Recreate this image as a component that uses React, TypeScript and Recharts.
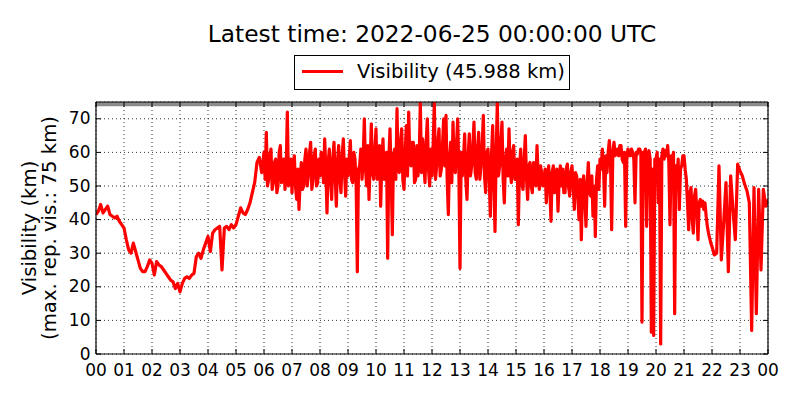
import React from "react";
import {
  LineChart, Line, XAxis, YAxis, CartesianGrid, ReferenceArea,
} from "recharts";

// visibility (km), hour by hour; quiet hours every 5 min, noisy hours every 2.5 min
const h00 = [41.5, 42.5, 44.5, 42, 43, 44, 41.5, 41, 40.5, 41, 39.5, 38.5];
const h01 = [37.5, 34, 31, 30, 33, 30.5, 28, 25.5, 24.5, 24.5, 26, 28];
const h02 = [27, 23.5, 27.5, 26.5, 26, 25, 24, 23, 22, 21.5, 19.5, 21];
const h03 = [18.5, 21, 22.5, 23, 22.5, 23.5, 24, 29, 30, 28.5, 31, 33];
const h04 = [35, 30.5, 36, 37, 37.5, 38, 25, 37.5, 38, 37, 38.5, 37.5];
const h05 = [38.5, 41, 43.5, 42, 41.5, 43, 45, 48, 51, 57, 58.5, 54];
const h06 = [60, 52, 66, 50, 52, 59, 61, 49, 51, 57, 58, 48, 50, 60, 62, 51, 56, 58, 49, 55, 72, 50, 55, 58];
const h07 = [48, 57, 59, 50, 46, 55, 43, 52, 57, 49, 50, 58, 61, 50, 53, 60, 63, 49, 52, 59, 61, 50, 51, 58];
const h08 = [53, 60, 58, 51, 64, 55, 42, 57, 61, 52, 46, 58, 63, 53, 44, 57, 62, 52, 48, 59, 64, 54, 47, 58];
const h09 = [53, 58, 63.5, 52, 51, 60, 58, 50, 24.5, 55, 56, 61, 52, 58, 70, 55, 50, 62, 46, 57, 68.5, 54, 52, 60];
const h10 = [67, 52, 56, 62, 44, 57, 64, 52, 56, 60, 28.5, 58, 67, 53, 35.5, 59, 61, 52, 73, 55, 54, 63, 67, 52];
const h11 = [49, 60, 68, 53, 72, 58, 56, 63, 63, 51, 52, 62, 53, 58, 75, 54, 64, 57, 51, 63, 70, 55, 50, 61];
const h12 = [53, 62, 75, 52, 56, 63, 67, 53, 55, 62, 70, 56, 71, 52, 41.5, 58, 63, 51, 69, 57, 54, 62, 70, 55];
const h13 = [25.5, 60, 53, 58, 65.5, 52, 46, 59, 65.5, 53, 56, 62, 69, 54, 52, 61, 66, 52, 56, 62, 71, 53, 48, 60];
const h14 = [61, 53, 41, 59, 68, 52, 36.5, 60, 75, 53, 56, 63, 69, 52, 45, 58, 61, 53, 67, 55, 51, 60, 62, 52];
const h15 = [52, 58, 38.5, 55, 61, 51, 49, 58, 65, 52, 46, 56, 57, 50, 48, 57, 55, 50, 62, 53, 49, 56, 54, 50];
const h16 = [51, 55, 45, 53, 56, 49, 39.5, 54, 56, 48, 50, 55, 42.5, 52, 56, 50, 55, 48, 48, 55, 56.5, 50, 47, 54];
const h17 = [56, 50, 43, 54, 53, 47, 40, 52, 34, 50, 53, 46, 38, 51, 57, 48, 47, 53, 41, 50, 35, 52, 56, 49];
const h18 = [58, 55, 61, 56, 44, 59, 54, 60, 63.5, 58, 37, 60, 63, 59, 60, 61, 59, 62, 62, 58, 57, 60, 38, 59];
const h19 = [61, 59, 59, 61, 60, 58, 45, 60, 59.5, 61, 61, 60, 9.5, 60, 60, 61, 38, 59, 60.5, 58, 6.5, 55, 5.5, 58];
const h20 = [58, 60, 45, 58, 3, 59, 61, 58, 60.5, 59, 62, 57, 38.5, 59, 58, 60, 12, 56, 52, 58, 43, 55, 56, 59];
const h21 = [59, 55, 52, 45, 37, 48, 49.5, 40, 36, 47, 49, 42, 34, 45, 46, 44, 45.5, 43, 45, 41, 38, 36, 34.5, 33];
const h22 = [32, 29.5, 30, 56, 28, 39, 51, 24.5, 53, 43, 34, 56.5];
const h23 = [54.5, 53, 50.5, 48.5, 45, 7, 49.5, 12, 49, 25, 49, 44];
const lastValue = 45.988;

const hourLabels = [
  "00", "01", "02", "03", "04", "05", "06", "07", "08", "09", "10", "11",
  "12", "13", "14", "15", "16", "17", "18", "19", "20", "21", "22", "23", "00",
];
const yTicks = [0, 10, 20, 30, 40, 50, 60, 70];
const maxRepVis = 75;

const hours = [h00, h01, h02, h03, h04, h05, h06, h07, h08, h09, h10, h11,
  h12, h13, h14, h15, h16, h17, h18, h19, h20, h21, h22, h23];
const data = hours
  .flatMap((vals, h) => vals.map((v, i) => ({ t: h * 60 + (i * 60) / vals.length, vis: v })))
  .concat([{ t: 24 * 60, vis: lastValue }]);
const hourTicks = hourLabels.map((_, i) => i * 60);

const FONT = "DejaVu Sans";
const TICK_FS = 17;

const BottomTick = ({ x, y, payload }: any) => (
  <g>
    <line x1={x} x2={x} y1={y} y2={y - 5} stroke="#000" />
    <text x={x} y={y + 21.5} textAnchor="middle" fontSize={TICK_FS} fontFamily={FONT} fill="#000">
      {hourLabels[Math.round(payload.value / 60)]}
    </text>
  </g>
);
const TopTick = ({ x, y }: any) => <line x1={x} x2={x} y1={y} y2={y + 5} stroke="#000" />;
const LeftTick = ({ x, y, payload }: any) => (
  <g>
    <line x1={x} x2={x + 5} y1={y} y2={y} stroke="#000" />
    <text x={x - 5.5} y={y + 5.5} textAnchor="end" fontSize={TICK_FS} fontFamily={FONT} fill="#000">
      {payload.value}
    </text>
  </g>
);
const RightTick = ({ x, y }: any) => <line x1={x} x2={x - 5} y1={y} y2={y} stroke="#000" />;

export default function App() {
  return (
    <div style={{ position: "absolute", left: 0, top: 0, width: 800, height: 400, background: "#fff" }}>
      <LineChart width={800} height={400} data={data} margin={{ top: 92, right: 22, bottom: 16, left: 56 }}>
        <CartesianGrid stroke="#000" strokeWidth={0.8} strokeDasharray="1 3" />
        <ReferenceArea y1={73.7} y2={maxRepVis} fill="#8c8c8c" fillOpacity={1} stroke="none" />
        <XAxis
          dataKey="t" type="number" domain={[0, 1440]} ticks={hourTicks} interval={0}
          allowDataOverflow height={30} tickSize={0} tickMargin={0} tickLine={false}
          axisLine={{ stroke: "#000", strokeWidth: 1.2 }} tick={<BottomTick />}
        />
        <XAxis
          xAxisId="top" orientation="top" dataKey="t" type="number" domain={[0, 1440]}
          ticks={hourTicks} interval={0} allowDataOverflow height={10} tickSize={0} tickMargin={0}
          tickLine={false} axisLine={{ stroke: "#000", strokeWidth: 1.2 }} tick={<TopTick />}
        />
        <YAxis
          type="number" domain={[0, maxRepVis]} ticks={yTicks} interval={0} allowDataOverflow
          width={40} tickSize={0} tickMargin={0} tickLine={false}
          axisLine={{ stroke: "#000", strokeWidth: 1.2 }} tick={<LeftTick />}
        />
        <YAxis
          yAxisId="right" orientation="right" type="number" domain={[0, maxRepVis]} ticks={yTicks}
          interval={0} allowDataOverflow width={10} tickSize={0} tickMargin={0} tickLine={false}
          axisLine={{ stroke: "#000", strokeWidth: 1.2 }} tick={<RightTick />}
        />
        <Line
          type="linear" dataKey="vis" stroke="#ff0000" strokeWidth={3.2} dot={false}
          strokeLinejoin="round" isAnimationActive={false}
        />
      </LineChart>
      <svg width={800} height={400} style={{ position: "absolute", left: 0, top: 0, pointerEvents: "none" }}
        fontFamily={FONT}>
        <text x={432} y={41.5} textAnchor="middle" fontSize={23.3}>
          Latest time: 2022-06-25 00:00:00 UTC
        </text>
        <rect x={294.5} y={55.5} width={275} height={34} fill="#fff" stroke="#000" />
        <line x1={302} x2={343} y1={71.5} y2={71.5} stroke="#ff0000" strokeWidth={3} />
        <text x={357} y={78.3} fontSize={19.5}>Visibility (45.988 km)</text>
        <g transform="translate(35.5 228) rotate(-90)">
          <text x={0} y={0} textAnchor="middle" fontSize={19.7}>Visibility (km)</text>
        </g>
        <g transform="translate(56 228) rotate(-90)">
          <text x={0} y={0} textAnchor="middle" fontSize={19.7}>(max. rep. vis.: 75 km)</text>
        </g>
      </svg>
    </div>
  );
}
